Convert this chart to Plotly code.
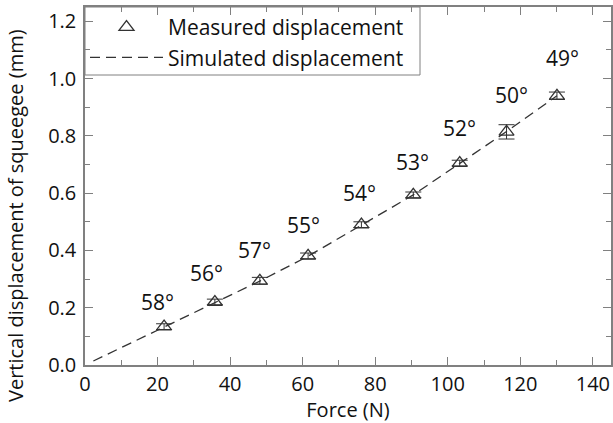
import plotly.graph_objects as go

force = [21.8, 35.8, 48.2, 61.5, 76.2, 90.5, 103.3, 116.2, 130.1]
disp = [0.134, 0.220, 0.294, 0.381, 0.490, 0.594, 0.705, 0.814, 0.940]
disp_err = [0.010, 0.010, 0.012, 0.010, 0.010, 0.010, 0.010, 0.025, 0.013]
angles = ["58°", "56°", "57°", "55°", "54°", "53°", "52°", "50°", "49°"]

# Simulated curve
sim_force = [2.3, 21.8, 35.8, 48.2, 61.5, 76.2, 90.5, 103.3, 116.2, 130.1]
sim_disp = [0.014, 0.132, 0.219, 0.293, 0.380, 0.489, 0.594, 0.704, 0.815, 0.940]

x_ticks = [0, 20, 40, 60, 80, 100, 120, 140]
y_ticks = [0.0, 0.2, 0.4, 0.6, 0.8, 1.0, 1.2]

# label offsets in pixels (dx, dy) relative to each point
label_shift = [(-7, 25), (-8, 29), (-5, 31), (-5, 31), (-2, 32), (-1, 33), (0, 35), (5, 37), (6, 38)]

FONT = "Open Sans"
FS = 21
AX = "#808080"
INK = "#333333"
TXT = "#111111"

fig = go.Figure()
fig.add_trace(go.Scatter(
    x=force, y=disp, mode="markers", name="Measured displacement",
    marker=dict(symbol="triangle-up-open", size=13, color=INK, line=dict(width=1.3, color=INK)),
    error_y=dict(type="data", array=disp_err, visible=True, color=INK, thickness=1, width=8),
))
fig.add_trace(go.Scatter(
    x=sim_force, y=sim_disp, mode="lines", name="Simulated displacement",
    line=dict(color=INK, width=1.3, dash="10px,6px"),
))

for xv, yv, t, (dx, dy) in zip(force, disp, angles, label_shift):
    fig.add_annotation(x=xv, y=yv, xref="x", yref="y", text=t, showarrow=False,
                       xshift=dx, yshift=dy, font=dict(family=FONT, size=FS, color=TXT))

fig.add_annotation(x=-70 / 526, y=(365 - 216) / 358, xref="paper", yref="paper",
                   text="Vertical displacement of squeegee (mm)", textangle=-90,
                   showarrow=False, xanchor="center", yanchor="middle",
                   font=dict(family=FONT, size=FS - 1, color=TXT))

# legend box
fig.add_shape(type="rect", xref="paper", yref="paper", x0=0, x1=(420 - 85) / 526,
              y0=(365 - 75) / 358, y1=1, line=dict(color=AX, width=1), fillcolor="white", layer="below")

fig.update_layout(
    width=613, height=423,
    margin=dict(l=85, r=2, t=7, b=58),
    paper_bgcolor="white", plot_bgcolor="white",
    font=dict(family=FONT, size=FS, color=TXT),
    showlegend=True,
    legend=dict(x=0.0, y=1.0, xanchor="left", yanchor="top", bgcolor="rgba(0,0,0,0)",
                font=dict(family=FONT, size=FS, color=TXT), itemwidth=73,
                tracegroupgap=0),
)
axis_common = dict(showgrid=False, zeroline=False, showline=True, linecolor=AX, linewidth=1.5,
                   mirror="allticks", ticks="inside", ticklen=8, tickcolor=AX, tickwidth=1.2,
                   automargin=False, tickfont=dict(family=FONT, size=FS - 1, color=TXT))
fig.update_xaxes(range=[0, 145], tickvals=x_ticks, ticktext=[str(v) for v in x_ticks],
                 title=dict(text="Force (N)", standoff=5, font=dict(size=FS - 1)),
                 minor=dict(dtick=10, ticks="inside", ticklen=5, tickcolor=AX, showgrid=False),
                 **axis_common)
fig.update_yaxes(range=[0, 1.25], tickvals=y_ticks, ticktext=[f"{v:.1f}" for v in y_ticks],
                 ticklabelstandoff=3,
                 minor=dict(dtick=0.1, ticks="inside", ticklen=5, tickcolor=AX, showgrid=False),
                 **axis_common)

fig.write_html("out.html", config={"displayModeBar": False},
               post_script="document.body.style.margin='0';")
